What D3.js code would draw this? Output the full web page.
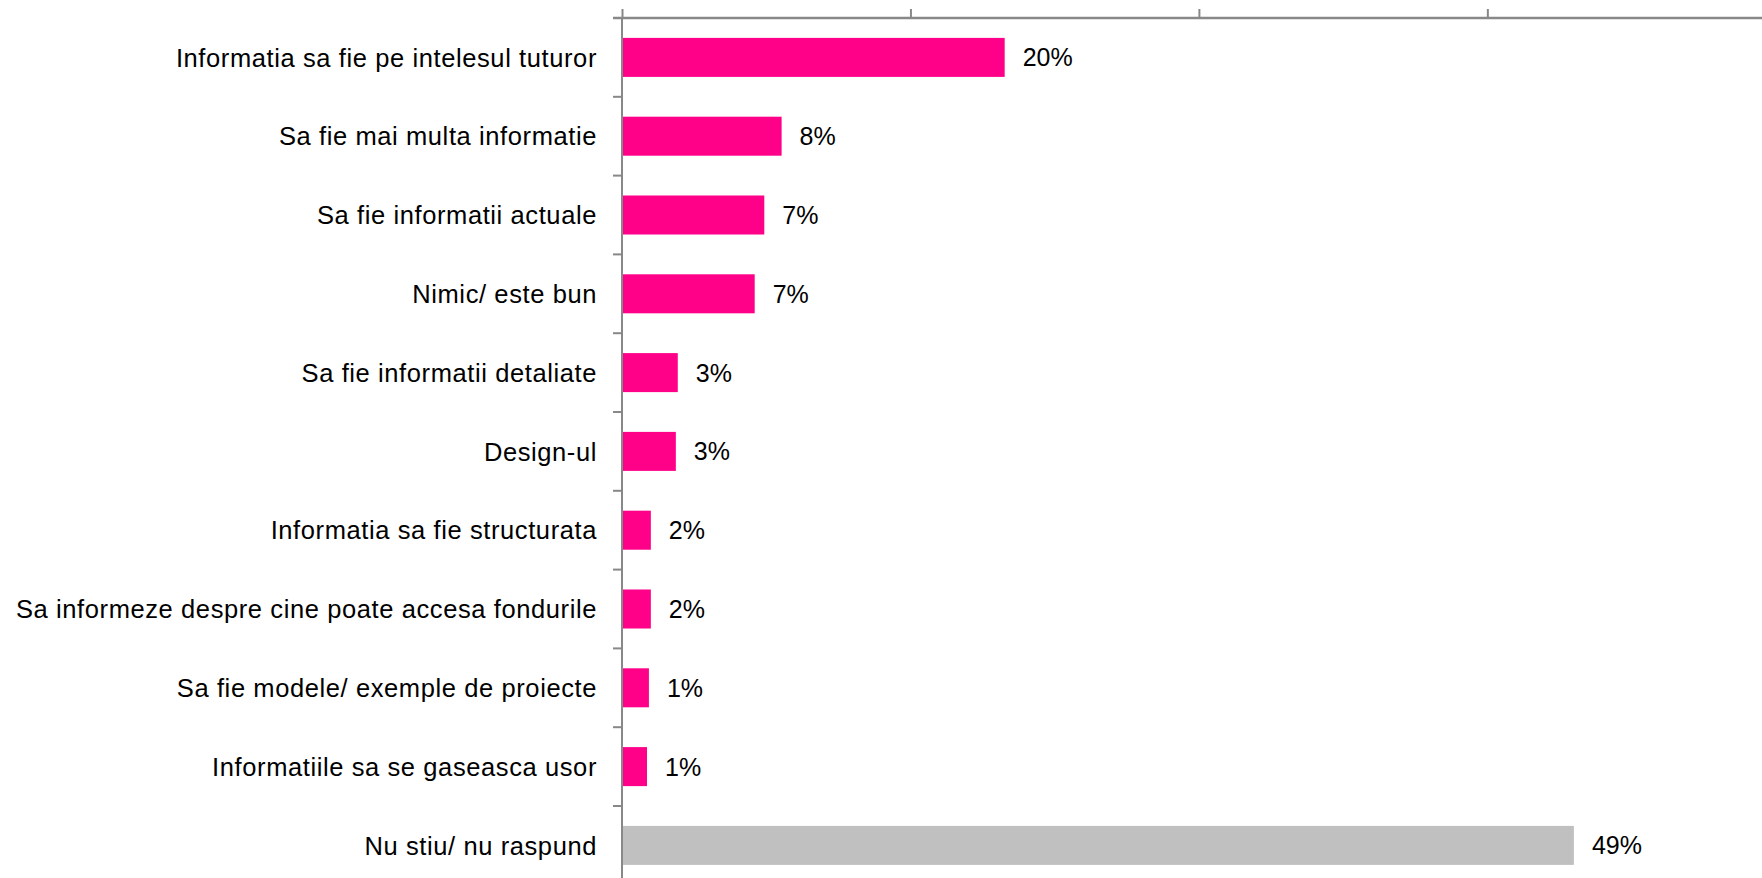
<!DOCTYPE html>
<html>
<head>
<meta charset="utf-8">
<script src="https://cdn.jsdelivr.net/npm/d3@7"></script>
<style>
  html, body { margin: 0; padding: 0; background: #ffffff; }
  svg { display: block; }
</style>
</head>
<body>
<svg id="chart" width="1762" height="878"></svg>
<script>
// ---- data ----
const categories = [
  "Informatia sa fie pe intelesul tuturor",
  "Sa fie mai multa informatie",
  "Sa fie informatii actuale",
  "Nimic/ este bun",
  "Sa fie informatii detaliate",
  "Design-ul",
  "Informatia sa fie structurata",
  "Sa informeze despre cine poate accesa fondurile",
  "Sa fie modele/ exemple de proiecte",
  "Informatiile sa se gaseasca usor",
  "Nu stiu/ nu raspund"
];
const values = [19.9, 8.3, 7.4, 6.9, 2.9, 2.8, 1.5, 1.5, 1.4, 1.3, 49.5];
const valueLabels = ["20%", "8%", "7%", "7%", "3%", "3%", "2%", "2%", "1%", "1%", "49%"];
const barColors = ["#FF0088", "#FF0088", "#FF0088", "#FF0088", "#FF0088", "#FF0088",
                   "#FF0088", "#FF0088", "#FF0088", "#FF0088", "#C0C0C0"];
const xTicks = [0, 15, 30, 45, 60];

// ---- layout ----
const W = 1762, H = 878;
const x0 = 622, plotTop = 18;
const pxPerUnit = 19.23;
const svg = d3.select("#chart");

const x = d3.scaleLinear().domain([0, 60]).range([x0, x0 + 60 * pxPerUnit]);
const y = d3.scaleBand().domain(categories)
  .range([plotTop, plotTop + categories.length * 78.8])
  .paddingInner(0.505).paddingOuter(0.2525);

const axisColor = "#888888";

// bars
svg.append("g").selectAll("rect").data(categories).join("rect")
  .attr("x", x(0))
  .attr("y", d => y(d))
  .attr("width", (d, i) => x(values[i]) - x(0))
  .attr("height", y.bandwidth())
  .attr("fill", (d, i) => barColors[i]);

// value labels
svg.append("g").selectAll("text").data(categories).join("text")
  .attr("x", (d, i) => x(values[i]) + 18)
  .attr("y", d => y(d) + y.bandwidth() / 2)
  .attr("dy", "0.36em")
  .attr("font-family", "'Liberation Sans', Arial, sans-serif")
  .attr("font-size", 25)
  .attr("fill", "#000")
  .text((d, i) => valueLabels[i]);

// category labels
svg.append("g").selectAll("text").data(categories).join("text")
  .attr("x", x0 - 25)
  .attr("y", d => y(d) + y.bandwidth() / 2)
  .attr("dy", "0.36em")
  .attr("text-anchor", "end")
  .attr("font-family", "'Liberation Sans', Arial, sans-serif")
  .attr("font-size", 25.5)
  .attr("letter-spacing", "0.6px")
  .attr("fill", "#000")
  .text(d => d);

// top axis (value axis)
const xAxis = d3.axisTop(x).tickValues(xTicks).tickSize(9).tickFormat("");
const gx = svg.append("g").attr("transform", `translate(0,${plotTop})`).call(xAxis);
gx.select(".domain").remove();
gx.selectAll(".tick line").attr("stroke", axisColor).attr("stroke-width", 2);
gx.append("line").attr("x1", x0 - 9).attr("x2", W).attr("y1", 0).attr("y2", 0)
  .attr("stroke", axisColor).attr("stroke-width", 2.5);

// left axis (category axis) with ticks at band boundaries
const step = y.step();
const boundaries = d3.range(categories.length + 1).map(i => plotTop + i * step);
const gy = svg.append("g");
gy.append("line").attr("x1", x0).attr("x2", x0).attr("y1", plotTop).attr("y2", H)
  .attr("stroke", axisColor).attr("stroke-width", 2);
gy.selectAll("line.tk").data(boundaries).join("line").attr("class", "tk")
  .attr("x1", x0 - 9).attr("x2", x0).attr("y1", d => d).attr("y2", d => d)
  .attr("stroke", axisColor).attr("stroke-width", 2);
</script>
</body>
</html>
